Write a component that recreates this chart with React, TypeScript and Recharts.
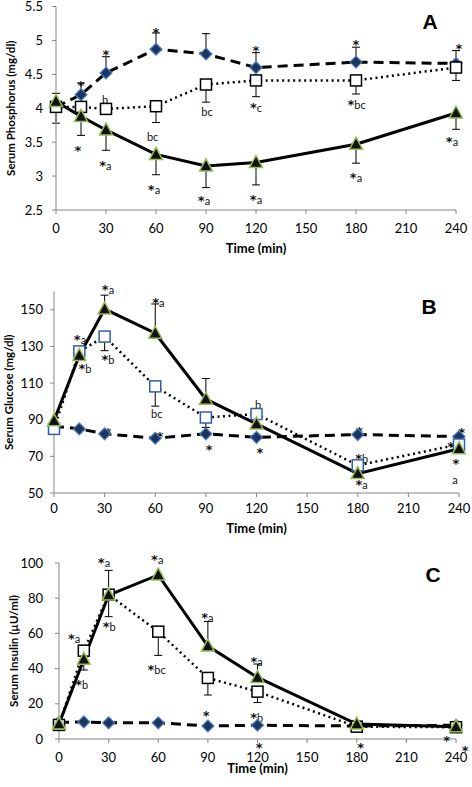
import React from 'react';
import { ComposedChart, Line, XAxis, YAxis, ErrorBar, ReferenceDot, Label } from 'recharts';

const FONT = 'Lato, "Open Sans", sans-serif';

const times = [0, 15, 30, 60, 90, 120, 180, 240];
const xTicks = [0, 30, 60, 90, 120, 150, 180, 210, 240];

// Panel A – Serum Phosphorus
const phosTicks = [2.5, 3, 3.5, 4, 4.5, 5, 5.5];
const phosDiamond = [4.02, 4.2, 4.52, 4.87, 4.8, 4.6, 4.68, 4.66];
const phosDiamondLow = [0, 0, 0, 0, 0, 0, 0, 0];
const phosDiamondHigh = [0, 0.17, 0.24, 0.24, 0.3, 0.22, 0.22, 0.19];
const phosSquare = [4.02, 4.02, 3.99, 4.03, 4.35, 4.41, 4.41, 4.6];
const phosSquareLow = [0.24, 0.2, 0, 0.24, 0.26, 0.24, 0.2, 0.19];
const phosSquareHigh = [0, 0, 0, 0, 0, 0, 0, 0];
const phosTriangle = [4.1, 3.88, 3.68, 3.32, 3.15, 3.2, 3.47, 3.93];
const phosTriangleLow = [0, 0.28, 0.3, 0.3, 0.32, 0.33, 0.28, 0.24];
const phosTriangleHigh = [0.12, 0, 0, 0, 0, 0, 0, 0];
const phosNotes = [
  { t: 15, v: 4.265, s: '*' },
  { t: 30, v: 4.725, s: '*' },
  { t: 60, v: 5.055, s: '*' },
  { t: 120, v: 4.79, s: '*' },
  { t: 180, v: 4.87, s: '*' },
  { t: 241.8, v: 4.82, s: '*' },
  { t: 29.4, v: 4.066, s: 'b' },
  { t: 58, v: 3.515, s: 'bc' },
  { t: 90.6, v: 3.88, s: 'bc' },
  { t: 120, v: 3.94, s: '*c' },
  { t: 180.4, v: 3.985, s: '*bc' },
  { t: 13.2, v: 3.31, s: '*' },
  { t: 29.6, v: 3.09, s: '*a' },
  { t: 58.8, v: 2.74, s: '*a' },
  { t: 88.8, v: 2.58, s: '*a' },
  { t: 120, v: 2.595, s: '*a' },
  { t: 180, v: 2.91, s: '*a' },
  { t: 237.6, v: 3.44, s: '*a' },
];

// Panel B – Serum Glucose
const gluTicks = [50, 70, 90, 110, 130, 150];
const gluDiamond = [86.5, 85, 82.3, 79.9, 82.3, 80.4, 81.9, 80.8];
const gluDiamondLow = [0, 0, 0, 0, 0, 0, 0, 0];
const gluDiamondHigh = [0, 0, 0, 0, 0, 0, 0, 0];
const gluSquare = [85, 127.3, 135.4, 108.2, 91.2, 93.1, 65.1, 76.5];
const gluSquareLow = [0, 0, 7.7, 10.8, 5.4, 0, 0, 0];
const gluSquareHigh = [0, 0, 0, 0, 0, 0, 0, 0];
const gluTriangle = [89.5, 125.1, 150.4, 137.2, 101.2, 87.7, 60.6, 74.2];
const gluTriangleLow = [0, 0, 0, 0, 0, 0, 0, 0];
const gluTriangleHigh = [0, 0, 7.6, 16, 11.3, 0, 0, 0];
const gluNotes = [
  { t: 32, v: 158.4, s: '*a' },
  { t: 61.8, v: 151.6, s: '*a' },
  { t: 15.4, v: 131.4, s: '*a' },
  { t: 18.4, v: 115.7, s: '*b' },
  { t: 32, v: 120.5, s: '*b' },
  { t: 60.9, v: 91.1, s: 'bc' },
  { t: 121, v: 95.9, s: 'b' },
  { t: 32, v: 80.5, s: '*' },
  { t: 62.8, v: 78.4, s: '*' },
  { t: 92, v: 71.2, s: '*' },
  { t: 122, v: 69.7, s: '*' },
  { t: 181, v: 81.1, s: '*' },
  { t: 182.3, v: 66.5, s: '*b' },
  { t: 182.3, v: 52.4, s: '*a' },
  { t: 241.6, v: 80.5, s: '*' },
  { t: 235, v: 73, s: '*' },
  { t: 238.2, v: 63.5, s: '*' },
  { t: 237.6, v: 55.1, s: 'a' },
];

// Panel C – Serum Insulin
const insTicks = [0, 20, 40, 60, 80, 100];
const insDiamond = [9.5, 9.7, 9.2, 9.2, 7.4, 7.8, 7.4, 7.8];
const insDiamondLow = [0, 0, 0, 0, 0, 0, 0, 0];
const insDiamondHigh = [0, 0, 0, 0, 0, 0, 0, 0];
const insSquare = [8, 50.2, 82, 61, 34.7, 26.9, 7, 6.7];
const insSquareLow = [0, 11, 12.5, 13.5, 9.7, 6.2, 0, 0];
const insSquareHigh = [0, 0, 0, 0, 0, 0, 0, 0];
const insTriangle = [8.5, 45.3, 81.8, 93.2, 52.8, 35, 8.5, 7];
const insTriangleLow = [0, 0, 0, 0, 0, 0, 0, 0];
const insTriangleHigh = [0, 0, 14, 0, 14, 7.6, 0, 0];
const insNotes = [
  { t: 9.1, v: 54.8, s: '*a' },
  { t: 13.7, v: 28.4, s: '*b' },
  { t: 27.2, v: 98, s: '*a' },
  { t: 30.4, v: 61.6, s: '*b' },
  { t: 59.4, v: 99.7, s: '*a' },
  { t: 59, v: 36.9, s: '*bc' },
  { t: 89.7, v: 66.5, s: '*a' },
  { t: 88.9, v: 10.8, s: '*' },
  { t: 119.5, v: 41.5, s: '*a' },
  { t: 119.5, v: 9.4, s: '*b' },
  { t: 121, v: -7.2, s: '*' },
  { t: 182.4, v: -7.2, s: '*' },
  { t: 234.4, v: -3.6, s: '*' },
  { t: 245.5, v: -8.9, s: '*' },
];

function buildRows(
  d: number[], dl: number[], dh: number[],
  s: number[], sl: number[], sh: number[],
  tr: number[], tl: number[], th: number[]
) {
  return times.map((t, i) => ({
    t,
    d: d[i], dErr: [dl[i], dh[i]],
    s: s[i], sErr: [sl[i], sh[i]],
    tr: tr[i], trErr: [tl[i], th[i]],
  }));
}

const DiamondDot = (props: any) => {
  const { cx, cy } = props;
  if (cx == null || cy == null) return null;
  const r = 6;
  return (
    <polygon
      points={`${cx},${cy - r} ${cx + r},${cy} ${cx},${cy + r} ${cx - r},${cy}`}
      fill="#1b3563"
      stroke="#4f81bd"
      strokeWidth={1.2}
    />
  );
};

const makeSquareDot = (stroke: string) => (props: any) => {
  const { cx, cy } = props;
  if (cx == null || cy == null) return null;
  const h = 5.5;
  return <rect x={cx - h} y={cy - h} width={2 * h} height={2 * h} fill="#fff" stroke={stroke} strokeWidth={1.5} />;
};

const TriangleDot = (props: any) => {
  const { cx, cy } = props;
  if (cx == null || cy == null) return null;
  return (
    <polygon
      points={`${cx},${cy - 7} ${cx + 6.5},${cy + 5} ${cx - 6.5},${cy + 5}`}
      fill="#111"
      stroke="#9bbb59"
      strokeWidth={1.5}
    />
  );
};

const noteShape = (s: string) => (props: any) => {
  const { cx, cy } = props;
  if (cx == null || cy == null) return null;
  const star = s.startsWith('*');
  const rest = star ? s.slice(1) : s;
  return (
    <text x={cx} y={cy} textAnchor="middle" fill="#111" stroke="none">
      {star && (
        <tspan fontSize={13} fontWeight="bold" fontFamily='"DejaVu Sans", sans-serif' fill="#111">
          *
        </tspan>
      )}
      {rest && (
        <tspan fontSize={11} fontFamily={FONT} fill="#111">
          {rest}
        </tspan>
      )}
    </text>
  );
};

type PanelProps = {
  top: number;
  height: number;
  margin: { top: number; right: number; left: number; bottom: number };
  yWidth: number;
  yDomain: [number, number];
  yTicks: number[];
  yTickMargin: number;
  xTickMargin: number;
  yLabel: string;
  yLabelX: number;
  xLabelY: number;
  letter: string;
  letterX: number;
  letterY: number;
  squareStroke: string;
  rows: any[];
  notes: { t: number; v: number; s: string }[];
};

function Panel(p: PanelProps) {
  const axisColor = '#868686';
  return (
    <div style={{ position: 'absolute', left: 0, top: p.top, width: 472, height: p.height }}>
      <ComposedChart width={472} height={p.height} data={p.rows} margin={p.margin}>
        <XAxis
          dataKey="t"
          type="number"
          domain={[0, 240]}
          ticks={xTicks}
          interval={0}
          axisLine={{ stroke: axisColor }}
          tickLine={{ stroke: axisColor }}
          tickSize={4}
          tickMargin={p.xTickMargin}
          tick={{ fontSize: 13, fill: '#000', fontFamily: FONT }}
          height={30}
        >
          <Label
            content={(lp: any) => {
              const vb = lp.viewBox || {};
              const cx = (vb.x || 0) + (vb.width || 0) / 2;
              return (
                <text x={cx} y={p.xLabelY} textAnchor="middle" dominantBaseline="central" fontFamily={FONT} fontWeight="bold" fontSize={13} fill="#000">
                  Time (min)
                </text>
              );
            }}
          />
        </XAxis>
        <YAxis
          type="number"
          domain={p.yDomain}
          ticks={p.yTicks}
          interval={0}
          width={p.yWidth}
          axisLine={{ stroke: axisColor }}
          tickLine={{ stroke: axisColor }}
          tickSize={4}
          tickMargin={p.yTickMargin}
          tick={{ fontSize: 13, fill: '#000', fontFamily: FONT }}
        >
          <Label
            content={(lp: any) => {
              const vb = lp.viewBox || {};
              const cy = (vb.y || 0) + (vb.height || 0) / 2;
              return (
                <text
                  x={p.yLabelX}
                  y={cy}
                  transform={`rotate(-90 ${p.yLabelX} ${cy})`}
                  textAnchor="middle"
                  dominantBaseline="central"
                  fontFamily={FONT}
                  fontWeight="bold"
                  fontSize={11.5}
                  fill="#000"
                >
                  {p.yLabel}
                </text>
              );
            }}
          />
        </YAxis>
        <Line
          dataKey="d"
          stroke="#000"
          strokeWidth={3}
          strokeDasharray="10 6"
          dot={<DiamondDot />}
          activeDot={false}
          isAnimationActive={false}
        >
          <ErrorBar dataKey="dErr" width={4} stroke="#000" strokeWidth={1} direction="y" />
        </Line>
        <Line
          dataKey="s"
          stroke="#000"
          strokeWidth={2.5}
          strokeDasharray="2 3.5"
          dot={makeSquareDot(p.squareStroke)}
          activeDot={false}
          isAnimationActive={false}
        >
          <ErrorBar dataKey="sErr" width={4} stroke="#000" strokeWidth={1} direction="y" />
        </Line>
        <Line
          dataKey="tr"
          stroke="#000"
          strokeWidth={3}
          dot={<TriangleDot />}
          activeDot={false}
          isAnimationActive={false}
        >
          <ErrorBar dataKey="trErr" width={4} stroke="#000" strokeWidth={1} direction="y" />
        </Line>
        {p.notes.map((n, i) => (
          <ReferenceDot key={i} x={n.t} y={n.v} r={0} ifOverflow="visible" shape={noteShape(n.s)} />
        ))}
      </ComposedChart>
      <div
        style={{
          position: 'absolute',
          left: p.letterX - 20,
          top: p.letterY - 12,
          width: 40,
          height: 24,
          lineHeight: '24px',
          textAlign: 'center',
          fontFamily: '"Liberation Sans", Arial, sans-serif',
          fontWeight: 'bold',
          fontSize: 21,
          color: '#000',
        }}
      >
        {p.letter}
      </div>
    </div>
  );
}

const rowsA = buildRows(phosDiamond, phosDiamondLow, phosDiamondHigh, phosSquare, phosSquareLow, phosSquareHigh, phosTriangle, phosTriangleLow, phosTriangleHigh);
const rowsB = buildRows(gluDiamond, gluDiamondLow, gluDiamondHigh, gluSquare, gluSquareLow, gluSquareHigh, gluTriangle, gluTriangleLow, gluTriangleHigh);
const rowsC = buildRows(insDiamond, insDiamondLow, insDiamondHigh, insSquare, insSquareLow, insSquareHigh, insTriangle, insTriangleLow, insTriangleHigh);

export default function App() {
  return (
    <div style={{ position: 'absolute', left: 0, top: 0, width: 472, height: 787, background: '#fff', overflow: 'hidden' }}>
      <Panel
        top={0}
        height={260}
        margin={{ top: 6.5, right: 16, left: 0, bottom: 20 }}
        yWidth={56}
        yDomain={[2.5, 5.5]}
        yTicks={phosTicks}
        yTickMargin={9}
        xTickMargin={10}
        yLabel="Serum Phosphorus (mg/dl)"
        yLabelX={10}
        xLabelY={248}
        letter="A"
        letterX={430}
        letterY={22}
        squareStroke="#000"
        rows={rowsA}
        notes={phosNotes}
      />
      <Panel
        top={260}
        height={280}
        margin={{ top: 31.5, right: 13, left: 0, bottom: 17 }}
        yWidth={54}
        yDomain={[50, 160]}
        yTicks={gluTicks}
        yTickMargin={7}
        xTickMargin={6.5}
        yLabel="Serum Glucose (mg/dl)"
        yLabelX={8}
        xLabelY={268}
        letter="B"
        letterX={429}
        letterY={47}
        squareStroke="#2e5fa8"
        rows={rowsB}
        notes={gluNotes}
      />
      <Panel
        top={540}
        height={247}
        margin={{ top: 23, right: 16, left: 0, bottom: 18 }}
        yWidth={59}
        yDomain={[0, 100]}
        yTicks={insTicks}
        yTickMargin={12}
        xTickMargin={10}
        yLabel="Serum Insulin (µU/ml)"
        yLabelX={13}
        xLabelY={228}
        letter="C"
        letterX={433}
        letterY={35}
        squareStroke="#000"
        rows={rowsC}
        notes={insNotes}
      />
    </div>
  );
}
